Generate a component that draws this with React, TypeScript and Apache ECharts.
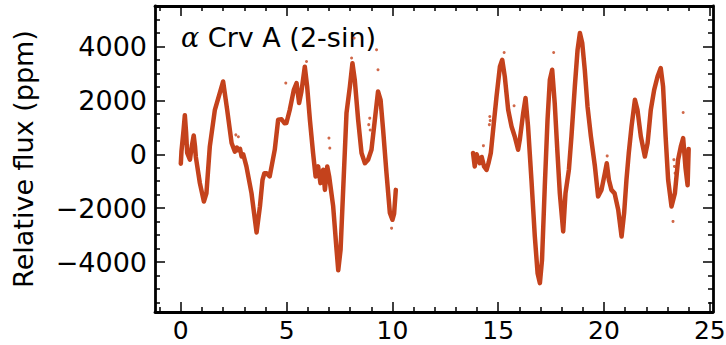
import React, { useEffect, useRef } from "react";
import * as echarts from "echarts";

// ---- data ----
const seg1X = [0.0, 0.03, 0.13, 0.19, 0.25, 0.3, 0.43, 0.52, 0.61, 0.67, 0.71, 0.9, 1.09, 1.21, 1.37, 1.61, 1.84, 2.0, 2.19, 2.4, 2.55, 2.65, 2.71, 2.8, 2.87, 2.95, 3.1, 3.34, 3.58, 3.74, 3.86, 3.95, 4.05, 4.2, 4.29, 4.44, 4.6, 4.76, 4.9, 4.99, 5.15, 5.34, 5.47, 5.59, 5.7, 5.86, 5.97, 6.1, 6.25, 6.37, 6.49, 6.6, 6.73, 6.81, 6.92, 7.01, 7.2, 7.36, 7.44, 7.55, 7.7, 7.83, 7.99, 8.11, 8.22, 8.38, 8.54, 8.7, 8.85, 9.01, 9.17, 9.32, 9.44, 9.56, 9.72, 9.88, 10.0, 10.08, 10.16];
const seg1Y = [-350, 100, 900, 1450, 800, 50, -200, 300, 700, 300, -100, -1070, -1750, -1450, 290, 1650, 2270, 2700, 1650, 420, 100, 250, 150, 200, -80, 0, -450, -1440, -2900, -1930, -950, -700, -700, -820, -450, 170, 1280, 1300, 1150, 1160, 1650, 2390, 2640, 1900, 2330, 3250, 2515, 1280, 50, -820, -450, -1070, -575, -1320, -450, -820, -1930, -3540, -4300, -3540, -820, 1530, 2515, 3380, 2765, 1280, 50, -330, -200, 170, 1280, 2330, 2020, 910, -700, -2180, -2430, -2200, -1320];

const seg2X = [13.81, 13.89, 13.98, 14.13, 14.22, 14.33, 14.45, 14.55, 14.65, 14.76, 14.92, 15.08, 15.19, 15.31, 15.47, 15.63, 15.78, 15.94, 16.02, 16.18, 16.29, 16.41, 16.57, 16.73, 16.86, 16.97, 17.07, 17.2, 17.33, 17.44, 17.55, 17.67, 17.8, 17.91, 18.07, 18.18, 18.34, 18.46, 18.62, 18.75, 18.86, 18.97, 19.09, 19.22, 19.38, 19.57, 19.72, 19.88, 20.04, 20.13, 20.23, 20.35, 20.5, 20.67, 20.83, 20.95, 21.06, 21.17, 21.3, 21.46, 21.58, 21.74, 21.93, 22.06, 22.21, 22.37, 22.53, 22.68, 22.79, 22.91, 23.03, 23.19, 23.35, 23.5, 23.63, 23.74, 23.85, 23.95, 24.0];
const seg2Y = [50, -450, 0, -330, -100, -450, -580, -300, 50, 910, 2145, 3257, 3505, 2885, 1650, 1030, 660, 170, 540, 1530, 2085, 1030, -950, -3050, -4410, -4780, -3915, -1200, 1280, 2765, 3135, 1900, 50, -1440, -2860, -1440, -575, 660, 2515, 3877, 4500, 4125, 3135, 1775, 660, -450, -1565, -1320, -700, -330, -950, -1320, -1450, -2060, -3050, -2180, -950, 50, 1030, 2020, 1650, 660, -80, 415, 1650, 2390, 2885, 3200, 2515, 660, -950, -1935, -1440, -200, 290, 600, -500, -1150, 200];

const outX = [2.6, 2.72, 4.96, 5.94, 7.0, 7.04, 8.07, 8.19, 8.93, 8.88, 8.95, 9.25, 9.32, 9.96, 14.3, 14.6, 14.62, 14.58, 15.28, 15.75, 17.62, 19.07, 20.15, 23.74, 23.3, 23.33, 23.36, 23.26];
const outY = [720, 650, 2640, 3440, 600, 230, 3570, 4310, 1340, 1100, 900, 3877, 3135, -2740, 320, 1400, 1250, 1100, 3777, 1800, 3777, 3380, -60, 1550, -200, -450, -700, -2490];

const xMajor = [0, 5, 10, 15, 20, 25];
const xMinor = [-1, 1, 2, 3, 4, 6, 7, 8, 9, 11, 12, 13, 14, 16, 17, 18, 19, 21, 22, 23, 24];
const yMajor = [-4000, -2000, 0, 2000, 4000];
const yMinor = [-5500, -5000, -4500, -3500, -3000, -2500, -1500, -1000, -500, 500, 1000, 1500, 2500, 3000, 3500, 4500, 5000];

const X_MIN = -1.22;
const X_MAX = 25.15;
const Y_MIN = -5850;
const Y_MAX = 5500;

const COLOR = "#c4421c";
const FONT = "DejaVu Sans";

function zip(xs: number[], ys: number[]) {
  return xs.map((x, i) => [x, ys[i]]);
}

function makeAxis(
  kind: "x" | "y",
  position: string,
  ticks: number[],
  len: number,
  showLine: boolean,
  showLabel: boolean
) {
  return {
    type: "value",
    position,
    min: kind === "x" ? X_MIN : Y_MIN,
    max: kind === "x" ? X_MAX : Y_MAX,
    axisLine: {
      show: showLine,
      onZero: false,
      lineStyle: { color: "#000", width: 2.8 },
    },
    axisTick: {
      show: true,
      inside: true,
      length: len,
      customValues: ticks,
      lineStyle: { color: "#000", width: 1.5 },
    },
    axisLabel: {
      show: showLabel,
      customValues: ticks,
      color: "#000",
      fontFamily: FONT,
      fontSize: kind === "x" ? 25 : 27,
      lineHeight: kind === "x" ? 22 : 24,
      margin: kind === "x" ? 7 : 8,
      formatter: (v: number) => (v < 0 ? "\u2212" + Math.abs(v) : String(v)),
    },
    splitLine: { show: false },
  } as any;
}

export default function App() {
  const ref = useRef<HTMLDivElement>(null);
  useEffect(() => {
    if (!ref.current) return;
    const chart = echarts.init(ref.current, null, { renderer: "svg" });
    const yMain = makeAxis("y", "left", yMajor, 10, true, true);
    yMain.name = "Relative flux (ppm)";
    yMain.nameLocation = "middle";
    yMain.nameGap = 118;
    yMain.nameTextStyle = { fontFamily: FONT, fontSize: 27, color: "#000" };
    chart.setOption({
      animation: false,
      backgroundColor: "#fff",
      grid: {
        left: 155,
        top: 6,
        right: 13,
        bottom: 33,
        containLabel: false,
        outerBoundsMode: "none",
      },
      xAxis: [
        makeAxis("x", "bottom", xMajor, 10, true, true),
        makeAxis("x", "bottom", xMinor, 5, false, false),
        makeAxis("x", "top", xMajor, 10, true, false),
        makeAxis("x", "top", xMinor, 5, false, false),
      ],
      yAxis: [
        yMain,
        makeAxis("y", "left", yMinor, 5, false, false),
        makeAxis("y", "right", yMajor, 10, true, false),
        makeAxis("y", "right", yMinor, 5, false, false),
      ],
      graphic: [
        {
          type: "text",
          x: 181,
          y: 37,
          style: {
            text: "{a|\u03b1} Crv A (2-sin)",
            fill: "#000",
            font: `27px ${FONT}`,
            verticalAlign: "middle",
            rich: {
              a: {
                fontFamily: "DejaVu Serif",
                fontStyle: "italic",
                fontSize: 27,
                fill: "#000",
              },
            },
          },
        },
      ],
      series: [
        {
          type: "line",
          data: zip(seg1X, seg1Y),
          showSymbol: false,
          xAxisIndex: 0,
          yAxisIndex: 0,
          lineStyle: { color: COLOR, width: 4.5, join: "round", cap: "round" },
        },
        {
          type: "line",
          data: zip(seg2X, seg2Y),
          showSymbol: false,
          xAxisIndex: 0,
          yAxisIndex: 0,
          lineStyle: { color: COLOR, width: 4.5, join: "round", cap: "round" },
        },
        {
          type: "scatter",
          data: zip(outX, outY),
          symbolSize: 3,
          xAxisIndex: 0,
          yAxisIndex: 0,
          itemStyle: { color: COLOR },
        },
      ],
    });
    return () => chart.dispose();
  }, []);
  return (
    <div
      ref={ref}
      style={{ position: "fixed", left: 0, top: 0, width: 726, height: 345, background: "#fff" }}
    />
  );
}
